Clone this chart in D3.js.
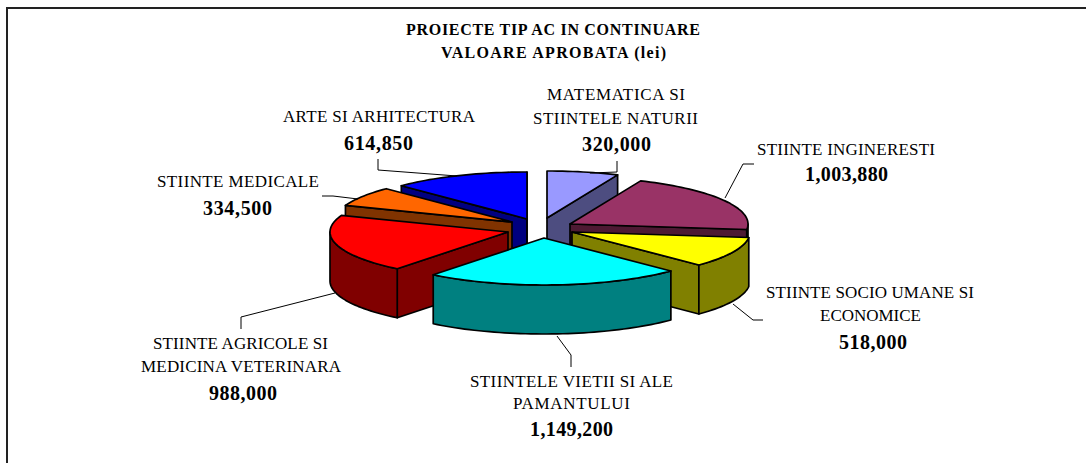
<!DOCTYPE html>
<html>
<head>
<meta charset="utf-8">
<script src="https://cdn.jsdelivr.net/npm/d3@7/dist/d3.min.js"></script>
<style>
html,body{margin:0;padding:0;background:#fff;overflow:hidden}
svg{display:block}
text{font-family:"Liberation Serif","Times New Roman",serif;fill:#000}
</style>
</head>
<body>
<svg id="chart" width="1086" height="463"></svg>
<script>
// --- data ---
const titleLines = ["PROIECTE TIP AC IN CONTINUARE", "VALOARE APROBATA (lei)"];
const categories = [
  ["MATEMATICA SI", "STIINTELE NATURII"],
  ["STIINTE INGINERESTI"],
  ["STIINTE SOCIO UMANE SI", "ECONOMICE"],
  ["STIINTELE VIETII SI ALE", "PAMANTULUI"],
  ["STIINTE AGRICOLE SI", "MEDICINA VETERINARA"],
  ["STIINTE MEDICALE"],
  ["ARTE SI ARHITECTURA"]
];
const values = [320000, 1003880, 518000, 1149200, 988000, 334500, 614850];

// --- style / layout ---
const topColors  = ["#9999FF", "#993366", "#FFFF00", "#00FFFF", "#FF0000", "#FF6600", "#0000FF"];
const wallColors = ["#4D4D80", "#4D1A33", "#808000", "#008080", "#800000", "#803300", "#000080"];
const pieCentre = [537, 228], radiusX = 178, radiusY = 47, depth = 49;
// how far each slice is pulled out of the pie
const explodeX = [10, 33, 35, 7, -29, -25, -10];
const explodeY = [-10, -4, 4, 10, 4, -6, -9];
// painter's order, back to front
const drawOrder = [6, 0, 5, 1, 4, 2, 3];
// label blocks: [x0,x1,baseline] per text line, value line last
const labelBoxes = [
  [[547,685,100],[533,698,124],[582,651,151]],
  [[757,935,155],[805,888,181]],
  [[766,974,298],[820,921,321],[839,907,349]],
  [[470,673,387],[513,630,409],[530,613,436]],
  [[153,328,349],[141,341,372],[209,277,400]],
  [[157,319,187],[203,272,215]],
  [[283,475,122],[344,413,150]]
];
const leaders = [
  [[617,161],[617,172],[590,173]],
  [[754,164],[743,164],[725,198]],
  [[763,320],[753,320],[733,304]],
  [[571,367],[571,355],[557,336]],
  [[241,329],[241,317],[335,293]],
  [[322,196],[333,196],[358,199]],
  [[378,159],[378,170],[457,176]]
];
const titleBoxes = [[406,700,35],[441,666,58]];

const svg = d3.select("#chart");

// frame (top and left rules)
svg.append("path").attr("d", d3.line()([[7,463],[7,8],[1086,8]]))
  .attr("fill","none").attr("stroke","#222").attr("stroke-width",2);

const pieLayout = d3.pie().sort(null).startAngle(0).endAngle(2*Math.PI)(values);
const line = d3.line();
const halfPi = Math.PI/2;

function project(i, angle, drop){
  return [pieCentre[0] + explodeX[i] + radiusX*Math.sin(angle),
          pieCentre[1] + explodeY[i] - radiusY*Math.cos(angle) + (drop||0)];
}
function apex(i, drop){
  return [pieCentre[0] + explodeX[i], pieCentre[1] + explodeY[i] + (drop||0)];
}
function rim(i, a0, a1, drop){
  const n = Math.max(2, Math.ceil((a1-a0)/0.03));
  return d3.range(n+1).map(k => project(i, a0 + (a1-a0)*k/n, drop));
}

const sliceGroups = svg.append("g").selectAll("g")
  .data(drawOrder).join("g").attr("stroke","#000").attr("stroke-width",1.7).attr("stroke-linejoin","round");

sliceGroups.each(function(i){
  const g = d3.select(this), d = pieLayout[i], a0 = d.startAngle, a1 = d.endAngle;
  const wall = pts => g.append("path").attr("d", line(pts)+"Z").attr("fill", wallColors[i]);
  // radial walls that face the viewer
  if (Math.sin(a0) < 0) wall([apex(i), project(i,a0), project(i,a0,depth), apex(i,depth)]);
  if (Math.sin(a1) > 0) wall([apex(i), project(i,a1), project(i,a1,depth), apex(i,depth)]);
  // outer wall, front half only
  const w0 = Math.max(a0, halfPi), w1 = Math.min(a1, 3*halfPi);
  if (w1 > w0) wall(rim(i,w0,w1).concat(rim(i,w0,w1,depth).reverse()));
  // top face
  g.append("path").attr("d", line([apex(i)].concat(rim(i,a0,a1)))+"Z").attr("fill", topColors[i]);
});

// leader lines
svg.append("g").selectAll("path").data(leaders).join("path")
  .attr("d", d => line(d)).attr("fill","none").attr("stroke","#000").attr("stroke-width",1);

// labels
const fmt = d3.format(",");
function put(str, box, size, weight){
  svg.append("text")
    .attr("x", box[0]).attr("y", box[2])
    .attr("textLength", box[1]-box[0]).attr("lengthAdjust","spacing")
    .attr("font-size", size).attr("font-weight", weight)
    .text(str);
}
categories.forEach((lines,i) => {
  lines.forEach((s,k) => put(s, labelBoxes[i][k], 17, "normal"));
  put(fmt(values[i]), labelBoxes[i][lines.length], 20, "bold");
});
titleLines.forEach((s,k) => put(s, titleBoxes[k], 16, "bold"));
</script>
</body>
</html>
